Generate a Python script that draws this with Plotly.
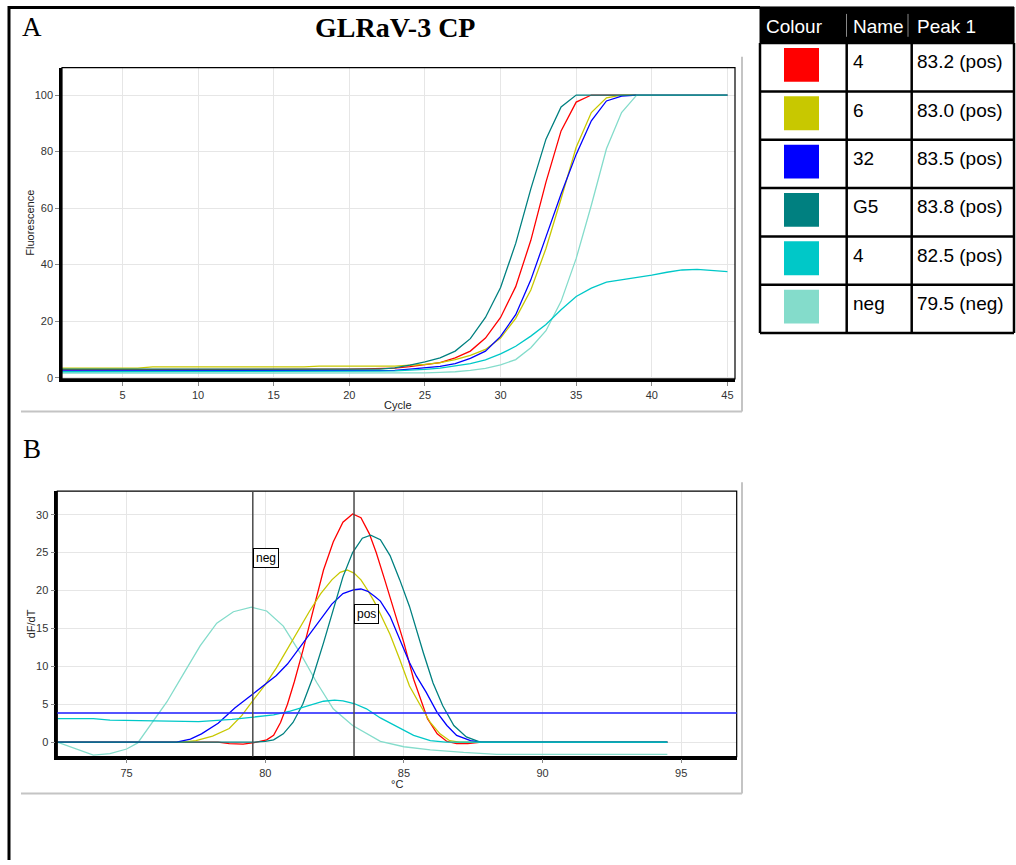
import plotly.graph_objects as go

W, H = 1016, 865

# ---------------- data ----------------
CYCLES = list(range(1, 46))

AMP_RED = [2.8, 2.8, 2.8, 2.8, 2.8, 2.8, 2.8, 2.8, 2.9, 2.9, 2.9, 2.9, 2.9, 2.9, 2.9, 2.9,
           2.9, 2.9, 2.9, 3.0, 3.1, 3.2, 3.4, 3.9, 4.5, 5.3, 7.0, 9.4, 14.0, 21.3, 32.2,
           48.6, 69.2, 87.3, 97.5, 100, 100, 100, 100, 100, 100, 100, 100, 100, 100]
AMP_YELLOW = [3.4, 3.4, 3.4, 3.4, 3.4, 3.4, 3.8, 3.8, 3.8, 3.8, 3.8, 3.8, 3.8, 3.8, 3.8,
              3.8, 3.8, 4.1, 4.1, 4.1, 4.1, 4.1, 4.1, 4.4, 4.7, 5.3, 6.4, 7.9, 10.0, 14.0,
              21.0, 31.0, 45.7, 63.3, 81.5, 93.8, 99.0, 100, 100, 100, 100, 100, 100, 100, 100]
AMP_BLUE = [2.4, 2.4, 2.4, 2.4, 2.4, 2.4, 2.4, 2.4, 2.4, 2.4, 2.4, 2.4, 2.4, 2.4, 2.4, 2.4,
            2.4, 2.4, 2.4, 2.4, 2.4, 2.4, 2.6, 3.0, 3.4, 4.0, 5.0, 6.8, 9.4, 14.6, 22.3,
            34.6, 49.8, 65.0, 79.0, 90.9, 97.9, 99.6, 100, 100, 100, 100, 100, 100, 100]
AMP_TEAL = [3.0, 3.0, 3.0, 3.0, 3.0, 3.0, 3.0, 3.0, 3.0, 3.0, 3.0, 3.0, 3.0, 3.0, 3.0, 3.0,
            3.0, 3.0, 3.0, 3.0, 3.0, 3.0, 3.5, 4.4, 5.6, 7.0, 9.4, 13.8, 21.3, 31.9, 47.5,
            66.8, 84.4, 95.8, 100, 100, 100, 100, 100, 100, 100, 100, 100, 100, 100]
AMP_CYAN = [2.1, 2.1, 2.1, 2.1, 2.1, 2.1, 2.1, 2.1, 2.1, 2.1, 2.1, 2.1, 2.1, 2.1, 2.1, 2.1,
            2.1, 2.1, 2.1, 2.1, 2.2, 2.3, 2.4, 2.6, 2.9, 3.4, 4.1, 5.0, 6.3, 8.4, 11.1,
            14.7, 18.8, 24.0, 28.7, 31.7, 33.8, 34.6, 35.4, 36.3, 37.3, 38.1, 38.3, 37.9, 37.5]
AMP_AQUA = [1.6, 1.6, 1.6, 1.6, 1.6, 1.6, 1.6, 1.6, 1.6, 1.6, 1.6, 1.6, 1.6, 1.6, 1.6, 1.6,
            1.6, 1.6, 1.6, 1.6, 1.6, 1.6, 1.6, 1.6, 1.7, 1.9, 2.1, 2.6, 3.3, 4.5, 6.4,
            10.6, 16.6, 27.0, 42.2, 61.0, 81.0, 93.8, 100, 100, 100, 100, 100, 100, 100]

MELT_RED_T = [72.5, 78.3, 78.7, 79.2, 79.6, 80.05, 80.3, 80.55, 80.8, 81.05, 81.35, 81.7,
              82.1, 82.45, 82.8, 83.15, 83.45, 83.75, 84.0, 84.3, 84.6, 85.0, 85.35, 85.6,
              85.85, 86.2, 86.55, 86.9, 87.3, 87.8, 94.5]
MELT_RED_V = [0, 0, -0.2, -0.25, -0.05, 0.3, 0.9, 2.6, 5.0, 8.0, 12.0, 17.0,
              22.7, 26.4, 29.0, 30.1, 29.6, 27.5, 25.0, 21.5, 18.0, 13.1, 8.3, 5.6,
              3.1, 1.1, 0.1, -0.2, -0.2, 0, 0]

MELT_YELLOW_T = [72.5, 77.0, 77.5, 78.1, 78.7, 79.15, 79.6, 80.0, 80.4, 80.8, 81.2, 81.6,
                 82.0, 82.4, 82.7, 82.95, 83.2, 83.45, 83.7, 83.95, 84.15, 84.5, 84.85,
                 85.2, 85.6, 85.95, 86.3, 86.65, 87.0, 94.5]
MELT_YELLOW_V = [0, 0, 0.2, 0.8, 1.8, 3.5, 5.7, 7.6, 9.8, 12.3, 14.8, 17.3,
                 19.6, 21.4, 22.4, 22.7, 22.3, 21.4, 20.0, 18.4, 16.9, 14.2, 10.9,
                 7.4, 4.8, 2.6, 1.1, 0.2, 0, 0]

MELT_BLUE_T = [72.5, 76.8, 77.3, 77.7, 78.3, 78.9, 79.6, 80.0, 80.4, 80.8, 81.2, 81.6,
               82.0, 82.4, 82.8, 83.2, 83.45, 83.7, 83.95, 84.15, 84.5, 84.85, 85.2,
               85.45, 85.8, 86.2, 86.55, 86.9, 87.4, 87.8, 94.5]
MELT_BLUE_V = [0, 0, 0.4, 1.1, 2.5, 4.5, 6.5, 7.6, 8.8, 10.3, 12.3, 14.3,
               16.3, 18.2, 19.6, 20.1, 20.2, 19.9, 19.2, 18.6, 16.6, 13.6, 10.5,
               8.7, 6.6, 3.9, 2.2, 0.9, 0.2, 0, 0]

MELT_TEAL_T = [72.5, 79.6, 80.0, 80.3, 80.65, 81.0, 81.35, 81.7, 82.1, 82.45, 82.8, 83.15,
               83.5, 83.8, 84.15, 84.5, 84.85, 85.2, 85.45, 85.7, 86.05, 86.4, 86.8,
               87.25, 87.75, 94.5]
MELT_TEAL_V = [0, 0, 0.1, 0.3, 1.1, 2.6, 5.0, 8.4, 13.1, 17.6, 21.8, 25.0,
               26.9, 27.3, 26.7, 24.6, 21.4, 17.9, 14.8, 11.8, 7.8, 4.8, 2.2,
               0.7, 0, 0]

MELT_CYAN_T = [72.5, 73.8, 74.4, 75.3, 76.5, 77.6, 78.8, 79.6, 80.3, 80.9, 81.5, 82.1,
               82.5, 82.8, 83.2, 83.65, 84.15, 84.75, 85.35, 85.95, 86.5, 94.5]
MELT_CYAN_V = [3.1, 3.1, 2.9, 2.85, 2.7, 2.7, 3.0, 3.3, 3.6, 4.1, 4.8, 5.4,
               5.55, 5.45, 5.1, 4.4, 3.2, 2.0, 0.9, 0.2, 0, 0]

MELT_AQUA_T = [72.5, 73.2, 73.8, 74.4, 75.0, 75.4, 75.85, 76.45, 77.05, 77.65, 78.25, 78.85,
               79.5, 80.05, 80.65, 81.25, 81.85, 82.45, 83.15, 84.15, 85.0, 85.95, 87.15,
               88.35, 94.5]
MELT_AQUA_V = [0, -0.9, -1.7, -1.5, -0.9, -0.1, 2.2, 5.3, 9.0, 12.7, 15.7, 17.2,
               17.8, 17.3, 15.3, 11.8, 7.9, 4.4, 2.2, 0.1, -0.6, -1.0, -1.35,
               -1.6, -1.6]

SAMPLE_NAMES = ["4", "6", "32", "G5", "4", "neg"]
SAMPLE_PEAKS = ["83.2 (pos)", "83.0 (pos)", "83.5 (pos)", "83.8 (pos)", "82.5 (pos)", "79.5 (neg)"]
SAMPLE_COLORS = ["#FF0000", "#C8C800", "#0000FF", "#008080", "#00C8C8", "#84DCCB"]
TABLE_HEADERS = ["Colour", "Name", "Peak 1"]

NEG_LINE_T = 79.55
POS_LINE_T = 83.2
THRESHOLD = 3.85

A_XTICKS = [5, 10, 15, 20, 25, 30, 35, 40, 45]
A_YTICKS = [0, 20, 40, 60, 80, 100]
B_XTICKS = [75, 80, 85, 90, 95]
B_YTICKS = [0, 5, 10, 15, 20, 25, 30]

# ---------------- helpers ----------------
def fx(x):
    return x / W


def fy(y):
    return 1 - y / H


FONT = "Liberation Sans, Arial, sans-serif"
SERIF = "Liberation Serif, Times New Roman, serif"

fig = go.Figure()

amp_series = [AMP_RED, AMP_YELLOW, AMP_BLUE, AMP_AQUA, AMP_TEAL, AMP_CYAN]
amp_colors = [SAMPLE_COLORS[0], SAMPLE_COLORS[1], SAMPLE_COLORS[2], SAMPLE_COLORS[5],
              SAMPLE_COLORS[3], SAMPLE_COLORS[4]]
for ys, c in zip(amp_series, amp_colors):
    fig.add_trace(go.Scatter(x=CYCLES, y=ys, mode="lines", line=dict(color=c, width=1.3),
                             xaxis="x", yaxis="y", showlegend=False, hoverinfo="skip"))

melt_series = [(MELT_AQUA_T, MELT_AQUA_V, SAMPLE_COLORS[5]),
               (MELT_RED_T, MELT_RED_V, SAMPLE_COLORS[0]),
               (MELT_YELLOW_T, MELT_YELLOW_V, SAMPLE_COLORS[1]),
               (MELT_BLUE_T, MELT_BLUE_V, SAMPLE_COLORS[2]),
               (MELT_TEAL_T, MELT_TEAL_V, SAMPLE_COLORS[3]),
               (MELT_CYAN_T, MELT_CYAN_V, SAMPLE_COLORS[4])]
for xs, ys, c in melt_series:
    fig.add_trace(go.Scatter(x=xs, y=ys, mode="lines", line=dict(color=c, width=1.3),
                             xaxis="x2", yaxis="y2", showlegend=False, hoverinfo="skip"))

axis_common = dict(showgrid=True, gridcolor="#E6E6E6", gridwidth=1, zeroline=False,
                   showline=True, linecolor="black", linewidth=2.5, ticks="outside",
                   ticklen=4, tickcolor="#888888", tickwidth=1,
                   tickfont=dict(family=FONT, size=11, color="#333333"))

fig.update_layout(
    width=W, height=H, margin=dict(l=0, r=0, t=0, b=0),
    paper_bgcolor="white", plot_bgcolor="white", showlegend=False,
    xaxis=dict(domain=[fx(62), fx(735)], range=[1, 45.5], tickvals=A_XTICKS,
               anchor="y", **axis_common),
    yaxis=dict(domain=[fy(381), fy(68)], range=[-0.4, 109.7], tickvals=A_YTICKS,
               anchor="x", **axis_common),
    xaxis2=dict(domain=[fx(57.3), fx(736.7)], range=[72.5, 97.0], tickvals=B_XTICKS,
                anchor="y2", **axis_common),
    yaxis2=dict(domain=[fy(761), fy(494)], range=[-1.9, 33.1], tickvals=B_YTICKS,
                anchor="x2", **axis_common),
)

shapes = []
# thin frame around plot areas (top/right)
shapes.append(dict(type="rect", xref="x domain", yref="y domain", x0=0, x1=1, y0=0, y1=1,
                   line=dict(color="black", width=1.2), layer="above"))
shapes.append(dict(type="rect", xref="x2 domain", yref="y2 domain", x0=0, x1=1, y0=0, y1=1,
                   line=dict(color="black", width=1.2), layer="above"))
# threshold line and peak markers in panel B
shapes.append(dict(type="line", xref="x2 domain", yref="y2", x0=0, x1=1, y0=THRESHOLD,
                   y1=THRESHOLD, line=dict(color="rgba(40,40,255,0.8)", width=2)))
for t in (NEG_LINE_T, POS_LINE_T):
    shapes.append(dict(type="line", xref="x2", yref="y2 domain", x0=t, x1=t, y0=0, y1=1,
                       line=dict(color="#4A4A4A", width=1.5)))
# gray panel boxes
gray = dict(color="#C4C4C4", width=2)
for bottom, top in ((414, 57), (798, 485)):
    shapes.append(dict(type="line", xref="paper", yref="paper", x0=fx(21), x1=fx(742),
                       y0=fy(bottom), y1=fy(bottom), line=gray))
    shapes.append(dict(type="line", xref="paper", yref="paper", x0=fx(742), x1=fx(742),
                       y0=fy(bottom), y1=fy(top), line=gray))
# black outer frame (left + top)
shapes.append(dict(type="line", xref="paper", yref="paper", x0=fx(9), x1=fx(9), y0=fy(6),
                   y1=0, line=dict(color="black", width=3)))
shapes.append(dict(type="line", xref="paper", yref="paper", x0=fx(8), x1=fx(760), y0=fy(7.5),
                   y1=fy(7.5), line=dict(color="black", width=3)))

# ---------------- table ----------------
TL, TR, TT, HB, TB = 760, 1014, 7, 43.3, 335
row_h = (TB - HB) / len(SAMPLE_NAMES)
col1, col2 = 846.7, 911.7
shapes.append(dict(type="rect", xref="paper", yref="paper", x0=fx(TL), x1=fx(TR), y0=fy(HB),
                   y1=fy(TT), fillcolor="black", line=dict(color="black", width=1)))
for xsep in (846.5, 908):
    shapes.append(dict(type="line", xref="paper", yref="paper", x0=fx(xsep), x1=fx(xsep),
                       y0=fy(37), y1=fy(14), line=dict(color="#888888", width=1)))
for i in range(len(SAMPLE_NAMES) + 1):
    yy = HB + i * row_h
    shapes.append(dict(type="line", xref="paper", yref="paper", x0=fx(TL), x1=fx(TR),
                       y0=fy(yy), y1=fy(yy), line=dict(color="black", width=2.5)))
for xx in (TL, col1, col2, TR):
    shapes.append(dict(type="line", xref="paper", yref="paper", x0=fx(xx), x1=fx(xx),
                       y0=fy(TB), y1=fy(HB), line=dict(color="black", width=2.5)))
for i, c in enumerate(SAMPLE_COLORS):
    top = HB + i * row_h
    shapes.append(dict(type="rect", xref="paper", yref="paper", x0=fx(784), x1=fx(819),
                       y0=fy(top + 39), y1=fy(top + 5), fillcolor=c, line=dict(width=0)))

annotations = []
for txt, x in zip(TABLE_HEADERS, (764, 851, 915)):
    annotations.append(dict(text=txt, xref="paper", yref="paper", x=fx(x), y=fy(27),
                            xanchor="left", yanchor="middle", showarrow=False,
                            font=dict(family=FONT, size=19, color="white")))
for i, (nm, pk) in enumerate(zip(SAMPLE_NAMES, SAMPLE_PEAKS)):
    yc = HB + i * row_h + 19
    annotations.append(dict(text=nm, xref="paper", yref="paper", x=fx(851), y=fy(yc),
                            xanchor="left", yanchor="middle", showarrow=False,
                            font=dict(family=FONT, size=19, color="black")))
    annotations.append(dict(text=pk, xref="paper", yref="paper", x=fx(915), y=fy(yc),
                            xanchor="left", yanchor="middle", showarrow=False,
                            font=dict(family=FONT, size=19, color="black")))

# titles / panel letters
annotations.append(dict(text="<b>GLRaV-3 CP</b>", xref="paper", yref="paper", x=fx(395),
                        y=fy(28), xanchor="center", yanchor="middle", showarrow=False,
                        font=dict(family=SERIF, size=28, color="black")))
annotations.append(dict(text="A", xref="paper", yref="paper", x=fx(32), y=fy(27),
                        xanchor="center", yanchor="middle", showarrow=False,
                        font=dict(family=SERIF, size=27, color="black")))
annotations.append(dict(text="B", xref="paper", yref="paper", x=fx(32), y=fy(452),
                        xanchor="center", yanchor="middle", showarrow=False,
                        font=dict(family=SERIF, size=27, color="black")))
# axis titles
for txt, x, y, ang in (("Fluorescence", 30, 224, -90), ("Cycle", 398, 407, 0),
                       ("dF/dT", 31, 628, -90), ("°C", 397, 789, 0)):
    annotations.append(dict(text=txt, xref="paper", yref="paper", x=fx(x), y=fy(y),
                            xanchor="center", yanchor="middle", showarrow=False, textangle=ang,
                            font=dict(family=FONT, size=11, color="#222222")))
# neg / pos labels
for txt, t, v in (("neg", NEG_LINE_T, 24.25), ("pos", POS_LINE_T, 16.9)):
    annotations.append(dict(text=txt, xref="x2", yref="y2", x=t, y=v, xanchor="left",
                            yanchor="middle", showarrow=False, bgcolor="white",
                            bordercolor="black", borderwidth=1, borderpad=2,
                            font=dict(family=FONT, size=12, color="black")))

fig.update_layout(shapes=shapes, annotations=annotations)
fig.write_html("out.html")
